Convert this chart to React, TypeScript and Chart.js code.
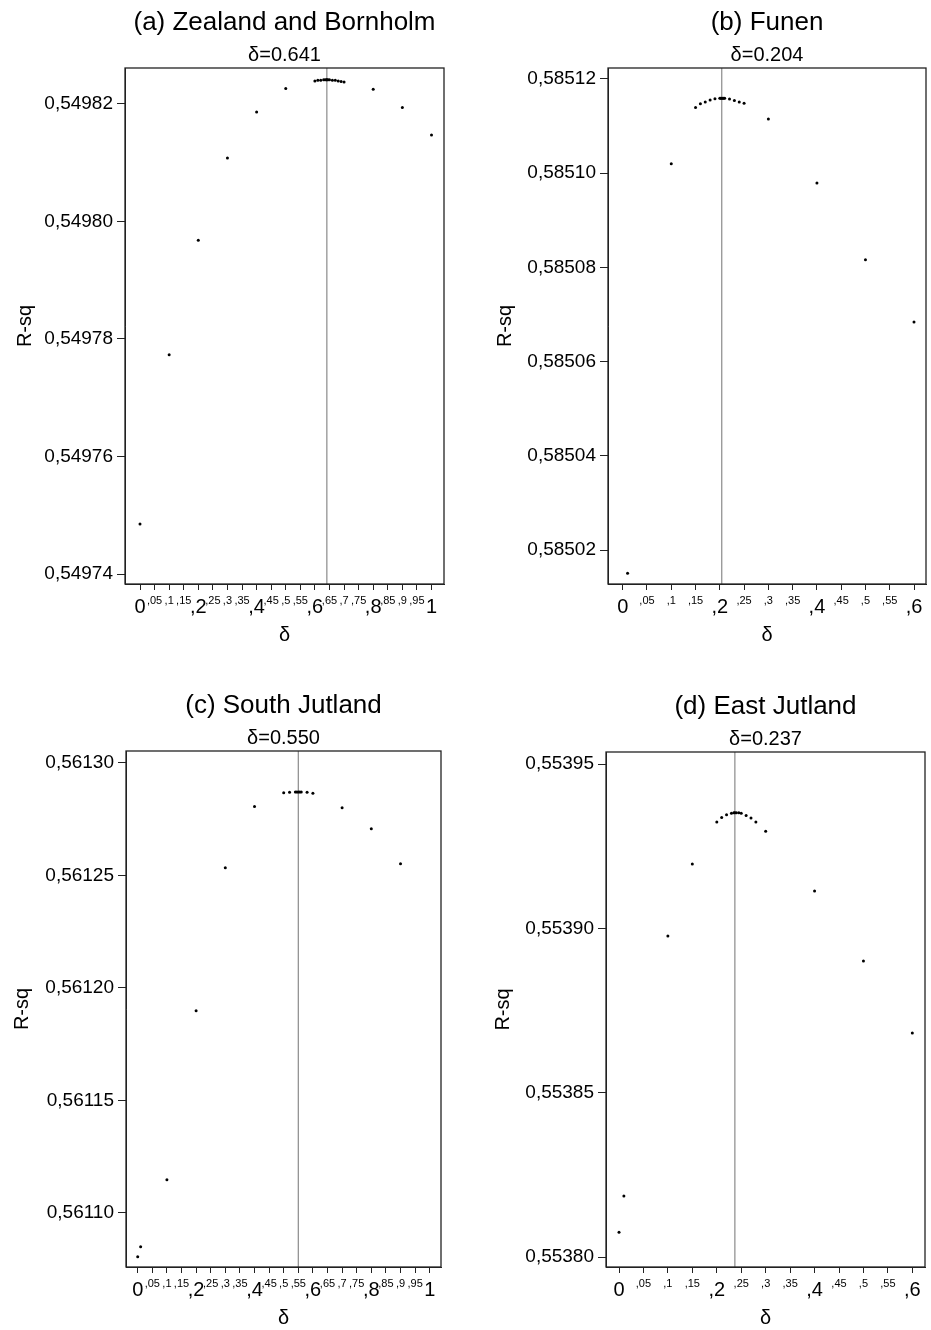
import React, { useEffect, useRef } from "react";
import { Chart, registerables } from "chart.js";

Chart.register(...registerables);

// ---------------- data ----------------
const deltaA = [0, 0.1, 0.2, 0.3, 0.4, 0.5, 0.6, 0.61, 0.62, 0.63, 0.635, 0.64, 0.641, 0.645, 0.65, 0.66, 0.67, 0.68, 0.69, 0.7, 0.8, 0.9, 1.0];
const rsqA = [0.5497485, 0.5497773, 0.5497968, 0.5498108, 0.5498186, 0.5498226, 0.5498239, 0.549824, 0.549824, 0.5498241, 0.5498241, 0.5498241, 0.5498241, 0.5498241, 0.5498241, 0.549824, 0.549824, 0.5498239, 0.5498238, 0.5498237, 0.5498225, 0.5498194, 0.5498147];

const deltaB = [0.01, 0.1, 0.15, 0.16, 0.17, 0.18, 0.19, 0.2, 0.202, 0.204, 0.206, 0.208, 0.21, 0.22, 0.23, 0.24, 0.25, 0.3, 0.4, 0.5, 0.6];
const rsqB = [0.5850151, 0.585102, 0.5851139, 0.5851147, 0.5851151, 0.5851155, 0.5851158, 0.5851159, 0.5851159, 0.5851159, 0.5851159, 0.5851159, 0.5851159, 0.5851157, 0.5851154, 0.5851151, 0.5851148, 0.5851115, 0.5850979, 0.5850816, 0.5850684];

const deltaC = [0, 0.01, 0.1, 0.2, 0.3, 0.4, 0.5, 0.52, 0.54, 0.545, 0.55, 0.555, 0.56, 0.58, 0.6, 0.7, 0.8, 0.9];
const rsqC = [0.5610805, 0.561085, 0.5611148, 0.5611899, 0.5612534, 0.5612806, 0.5612867, 0.561287, 0.5612871, 0.5612871, 0.5612871, 0.5612871, 0.5612871, 0.561287, 0.5612865, 0.5612801, 0.5612707, 0.5612552];

const deltaD = [0, 0.01, 0.1, 0.15, 0.2, 0.21, 0.22, 0.23, 0.235, 0.237, 0.24, 0.245, 0.25, 0.26, 0.27, 0.28, 0.3, 0.4, 0.5, 0.6];
const rsqD = [0.5538076, 0.5538186, 0.5538977, 0.5539196, 0.5539324, 0.5539338, 0.5539346, 0.5539351, 0.5539352, 0.5539352, 0.5539352, 0.5539352, 0.5539351, 0.5539344, 0.5539336, 0.5539324, 0.5539296, 0.5539114, 0.5538901, 0.5538682];

const optimalDelta = [0.641, 0.204, 0.55, 0.237];
const panelTitles = ["(a) Zealand and Bornholm", "(b) Funen", "(c) South Jutland", "(d) East Jutland"];
const panelSubtitles = ["δ=0.641", "δ=0.204", "δ=0.550", "δ=0.237"];

const xTicksWide = [0, 0.05, 0.1, 0.15, 0.2, 0.25, 0.3, 0.35, 0.4, 0.45, 0.5, 0.55, 0.6, 0.65, 0.7, 0.75, 0.8, 0.85, 0.9, 0.95, 1];
const xLabelsWide = ["0", ",05", ",1", ",15", ",2", ",25", ",3", ",35", ",4", ",45", ",5", ",55", ",6", ",65", ",7", ",75", ",8", ",85", ",9", ",95", "1"];
const xTicksNarrow = [0, 0.05, 0.1, 0.15, 0.2, 0.25, 0.3, 0.35, 0.4, 0.45, 0.5, 0.55, 0.6];
const xLabelsNarrow = ["0", ",05", ",1", ",15", ",2", ",25", ",3", ",35", ",4", ",45", ",5", ",55", ",6"];
const xMajorLabels = ["0", ",2", ",4", ",6", ",8", "1"];

const yTicksA = [0.54974, 0.54976, 0.54978, 0.5498, 0.54982];
const yLabelsA = ["0,54974", "0,54976", "0,54978", "0,54980", "0,54982"];
const yTicksB = [0.58502, 0.58504, 0.58506, 0.58508, 0.5851, 0.58512];
const yLabelsB = ["0,58502", "0,58504", "0,58506", "0,58508", "0,58510", "0,58512"];
const yTicksC = [0.5611, 0.56115, 0.5612, 0.56125, 0.5613];
const yLabelsC = ["0,56110", "0,56115", "0,56120", "0,56125", "0,56130"];
const yTicksD = [0.5538, 0.55385, 0.5539, 0.55395];
const yLabelsD = ["0,55380", "0,55385", "0,55390", "0,55395"];

const xAxisTitle = "δ";
const yAxisTitle = "R-sq";

// ---------------- layout ----------------
const FONT = '"Liberation Sans", Arial, Helvetica, sans-serif';
const CANVAS_H = 665;
const X_AXIS_H = 63;

type Panel = {
  deltas: number[];
  rsq: number[];
  xTicks: number[];
  xLabels: string[];
  yTicks: number[];
  yLabels: string[];
  xMin: number; xMax: number; yMin: number; yMax: number;
  cl: number; ct: number; cw: number;
  l: number; r: number; t: number; b: number;
  yTitleX: number;
};

const panels: Panel[] = [
  { deltas: deltaA, rsq: rsqA, xTicks: xTicksWide, xLabels: xLabelsWide, yTicks: yTicksA, yLabels: yLabelsA,
    xMin: -0.0515, xMax: 1.0429, yMin: 0.5497383, yMax: 0.5498261,
    cl: 0, ct: 0, cw: 465, l: 125, r: 444, t: 68, b: 584, yTitleX: 25 },
  { deltas: deltaB, rsq: rsqB, xTicks: xTicksNarrow, xLabels: xLabelsNarrow, yTicks: yTicksB, yLabels: yLabelsB,
    xMin: -0.0303, xMax: 0.6247, yMin: 0.5850128, yMax: 0.5851223,
    cl: 465, ct: 0, cw: 466, l: 608, r: 926, t: 68, b: 584, yTitleX: 505 },
  { deltas: deltaC, rsq: rsqC, xTicks: xTicksWide, xLabels: xLabelsWide, yTicks: yTicksC, yLabels: yLabelsC,
    xMin: -0.0401, xMax: 1.0387, yMin: 0.561076, yMax: 0.5613053,
    cl: 0, ct: 665, cw: 465, l: 126, r: 441, t: 751, b: 1267, yTitleX: 22 },
  { deltas: deltaD, rsq: rsqD, xTicks: xTicksNarrow, xLabels: xLabelsNarrow, yTicks: yTicksD, yLabels: yLabelsD,
    xMin: -0.0266, xMax: 0.6259, yMin: 0.553797, yMax: 0.5539537,
    cl: 465, ct: 665, cw: 466, l: 606, r: 925, t: 752, b: 1267, yTitleX: 503 },
];

function makeChart(canvas: HTMLCanvasElement, p: Panel, idx: number) {
  const frameAndLine = {
    id: "frameAndLine" + idx,
    beforeDatasetsDraw(chart: any) {
      const { ctx, chartArea } = chart;
      const x = chart.scales.x.getPixelForValue(optimalDelta[idx]);
      ctx.save();
      ctx.strokeStyle = "#8a8a8a";
      ctx.lineWidth = 1.2;
      ctx.beginPath();
      ctx.moveTo(x, chartArea.top);
      ctx.lineTo(x, chartArea.bottom);
      ctx.stroke();
      ctx.restore();
    },
    afterDraw(chart: any) {
      const { ctx, chartArea } = chart;
      ctx.save();
      ctx.strokeStyle = "#222";
      ctx.lineWidth = 1.3;
      ctx.strokeRect(chartArea.left, chartArea.top, chartArea.right - chartArea.left, chartArea.bottom - chartArea.top);
      const cx = (chartArea.left + chartArea.right) / 2;
      ctx.fillStyle = "#000";
      ctx.textAlign = "center";
      ctx.textBaseline = "alphabetic";
      ctx.font = `26px ${FONT}`;
      ctx.fillText(panelTitles[idx], cx, chartArea.top - 38);
      ctx.font = `20px ${FONT}`;
      ctx.fillText(panelSubtitles[idx], cx, chartArea.top - 7);
      ctx.restore();
    },
  };

  return new Chart(canvas, {
    type: "scatter",
    data: {
      datasets: [
        {
          data: p.deltas.map((d, i) => ({ x: d, y: p.rsq[i] })),
          pointRadius: 1.5,
          pointBorderWidth: 0,
          pointBackgroundColor: "#000",
          borderColor: "#000",
          showLine: false,
        },
      ],
    },
    options: {
      animation: false,
      responsive: false,
      events: [],
      layout: {
        padding: {
          left: 0,
          top: p.t - p.ct,
          right: p.cl + p.cw - p.r,
          bottom: p.ct + CANVAS_H - p.b - X_AXIS_H,
        },
      },
      plugins: {
        legend: { display: false },
        tooltip: { enabled: false },
        title: { display: false },
      },
      scales: {
        x: {
          type: "linear",
          min: p.xMin,
          max: p.xMax,
          afterBuildTicks: (scale: any) => {
            scale.ticks = p.xTicks.map((v) => ({ value: v }));
          },
          afterFit: (scale: any) => {
            scale.height = X_AXIS_H;
          },
          grid: { display: true, drawOnChartArea: false, drawTicks: true, tickLength: 6, color: "#222", lineWidth: 1 },
          border: { display: true, color: "#222", width: 1 },
          ticks: {
            autoSkip: false,
            maxRotation: 0,
            minRotation: 0,
            padding: 1,
            color: "#000",
            callback: (_v: any, i: number) => p.xLabels[i],
            font: (ctx: any) => {
              const lab = p.xLabels[ctx.index];
              return xMajorLabels.includes(lab)
                ? { family: FONT, size: 20, lineHeight: 1.62 }
                : { family: FONT, size: 11, lineHeight: 1.75 };
            },
          },
          title: {
            display: true,
            text: xAxisTitle,
            color: "#000",
            font: { family: FONT, size: 20, lineHeight: 1.2 },
            padding: { top: 0, bottom: 0 },
          },
        },
        y: {
          type: "linear",
          min: p.yMin,
          max: p.yMax,
          afterBuildTicks: (scale: any) => {
            scale.ticks = p.yTicks.map((v) => ({ value: v }));
          },
          afterFit: (scale: any) => {
            scale.width = p.l - p.cl;
          },
          grid: { display: true, drawOnChartArea: false, drawTicks: true, tickLength: 8, color: "#222", lineWidth: 1 },
          border: { display: true, color: "#222", width: 1 },
          ticks: {
            autoSkip: false,
            padding: 4,
            color: "#000",
            callback: (_v: any, i: number) => p.yLabels[i],
            font: { family: FONT, size: 19 },
          },
          title: {
            display: true,
            text: yAxisTitle,
            color: "#000",
            font: { family: FONT, size: 20, lineHeight: 1.2 },
            padding: { top: p.yTitleX - p.cl - 12, bottom: 0 },
          },
        },
      },
    },
    plugins: [frameAndLine],
  } as any);
}

function PanelCanvas({ p, idx }: { p: Panel; idx: number }) {
  const ref = useRef<HTMLCanvasElement | null>(null);
  useEffect(() => {
    if (!ref.current) return;
    const chart = makeChart(ref.current, p, idx);
    return () => chart.destroy();
  }, [p, idx]);
  return (
    <canvas
      ref={ref}
      width={p.cw}
      height={CANVAS_H}
      style={{ position: "absolute", left: p.cl, top: p.ct, width: p.cw, height: CANVAS_H }}
    />
  );
}

export default function App() {
  return (
    <div style={{ position: "absolute", left: 0, top: 0, width: 931, height: 1330, background: "#fff" }}>
      {panels.map((p, i) => (
        <PanelCanvas key={i} p={p} idx={i} />
      ))}
    </div>
  );
}
